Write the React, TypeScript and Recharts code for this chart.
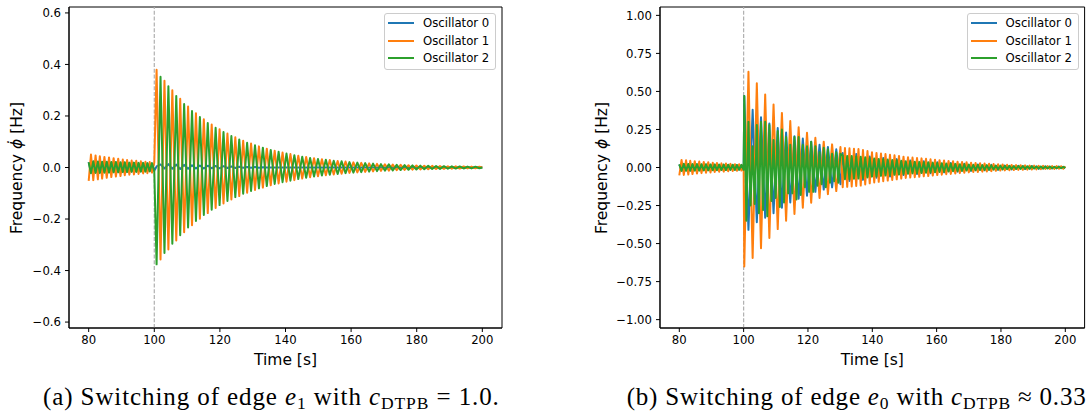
import React from 'react';
import { LineChart, Line, XAxis, YAxis, ReferenceLine, ReferenceArea } from 'recharts';

// ---------- data ----------
const seriesNames = ['Oscillator 0', 'Oscillator 1', 'Oscillator 2'];
const seriesKeys = ['o0', 'o1', 'o2'];
const seriesColors = ['#1f77b4', '#ff7f0e', '#2ca02c'];
const xTicks = [80, 100, 120, 140, 160, 180, 200];
const yTicksA = [0.6, 0.4, 0.2, 0, -0.2, -0.4, -0.6];
const yTicksB = [1, 0.75, 0.5, 0.25, 0, -0.25, -0.5, -0.75, -1];
const switchTime = 100;

// before the switch (identical in both runs)
const preTime = [80.0, 80.7, 81.4, 82.1, 82.8, 83.4, 84.1, 84.8, 85.5, 86.2, 86.9, 87.6, 88.3, 89.0, 89.7, 90.4, 91.0, 91.7, 92.4, 93.1, 93.8, 94.5, 95.2, 95.9, 96.6, 97.3, 97.9, 98.6, 99.3, 100.0];
const preOsc0 = [0.021, -0.020, 0.022, -0.019, 0.021, -0.019, 0.020, -0.018, 0.020, -0.018, 0.019, -0.017, 0.019, -0.017, 0.018, -0.016, 0.018, -0.016, 0.017, -0.015, 0.017, -0.015, 0.016, -0.014, 0.016, -0.014, 0.015, -0.013, 0.015, -0.013];
const preOsc1 = [-0.052, 0.050, -0.049, 0.047, -0.046, 0.044, -0.043, 0.041, -0.040, 0.039, -0.037, 0.036, -0.035, 0.034, -0.033, 0.031, -0.030, 0.029, -0.028, 0.027, -0.027, 0.026, -0.025, 0.024, -0.023, 0.022, -0.022, 0.021, -0.020, 0.019];
const preOsc2 = [0.020, -0.022, 0.024, -0.021, 0.023, -0.021, 0.022, -0.020, 0.022, -0.020, 0.021, -0.019, 0.021, -0.019, 0.020, -0.018, 0.020, -0.018, 0.019, -0.017, 0.019, -0.017, 0.018, -0.016, 0.018, -0.016, 0.017, -0.015, 0.017, -0.015];

// (a) after switching edge e1
const aTime = [
  100.7, 101.9, 103.1, 104.3, 105.5, 106.7, 107.9, 109.1, 110.3, 111.5,
  112.7, 113.9, 115.1, 116.3, 117.5, 118.7, 119.9, 121.1, 122.3, 123.5,
  124.7, 125.9, 127.1, 128.3, 129.5, 130.7, 131.9, 133.1, 134.3, 135.5,
  136.7, 137.9, 139.1, 140.3, 141.5, 142.7, 143.9, 145.1, 146.3, 147.5,
  148.7, 149.9, 151.1, 152.3, 153.5, 154.7, 155.9, 157.1, 158.3, 159.5,
  160.7, 161.9, 163.1, 164.3, 165.5, 166.7, 167.9, 169.1, 170.3, 171.5,
  172.7, 173.9, 175.1, 176.3, 177.5, 178.7, 179.9, 181.1, 182.3, 183.5,
  184.7, 185.9, 187.1, 188.3, 189.5, 190.7, 191.9, 193.1, 194.3, 195.5,
  196.7, 197.9, 199.1, 200.0];
const aOsc0 = [
  0.004, 0.012, -0.004, 0.013, -0.005, 0.011, -0.006, 0.010, -0.005, 0.009,
  -0.004, 0.008, -0.004, 0.007, -0.003, 0.006, -0.003, 0.005, -0.002, 0.004,
  -0.002, 0.003, -0.001, 0.002, -0.001, 0.002, -0.001, 0.001, 0, 0,
  0, 0, 0, 0, 0, 0, 0, 0, 0, 0,
  0, 0, 0, 0, 0, 0, 0, 0, 0, 0,
  0, 0, 0, 0, 0, 0, 0, 0, 0, 0,
  0, 0, 0, 0, 0, 0, 0, 0, 0, 0,
  0, 0, 0, 0, 0, 0, 0, 0, 0, 0,
  0, 0, 0, 0];
const aOsc1 = [
  0.379, -0.357, 0.337, -0.318, 0.300, -0.283, 0.267, -0.251, 0.237, -0.224,
  0.211, -0.199, 0.187, -0.177, 0.167, -0.157, 0.148, -0.140, 0.132, -0.124,
  0.117, -0.111, 0.104, -0.098, 0.093, -0.087, 0.082, -0.078, 0.073, -0.069,
  0.065, -0.062, 0.058, -0.055, 0.052, -0.049, 0.046, -0.043, 0.041, -0.038,
  0.036, -0.034, 0.032, -0.030, 0.029, -0.027, 0.025, -0.024, 0.023, -0.021,
  0.020, -0.019, 0.018, -0.017, 0.016, -0.015, 0.014, -0.013, 0.0125, -0.012,
  0.011, -0.0105, 0.010, -0.0094, 0.0088, -0.0083, 0.0079, -0.0074, 0.007, -0.0066,
  0.0062, -0.0059, 0.0055, -0.0052, 0.0049, -0.0047, 0.0044, -0.0042, 0.0039, -0.0037,
  0.0035, -0.0033, 0.0031, 0];
const aOsc2 = [
  -0.376, 0.352, -0.332, 0.315, -0.296, 0.278, -0.263, 0.246, -0.233, 0.219,
  -0.208, 0.196, -0.184, 0.173, -0.164, 0.154, -0.146, 0.138, -0.130, 0.122,
  -0.115, 0.109, -0.102, 0.096, -0.091, 0.086, -0.081, 0.077, -0.072, 0.068,
  -0.064, 0.061, -0.057, 0.054, -0.051, 0.048, -0.045, 0.042, -0.040, 0.037,
  -0.035, 0.033, -0.031, 0.030, -0.028, 0.026, -0.025, 0.024, -0.022, 0.021,
  -0.020, 0.019, -0.018, 0.017, -0.016, 0.015, -0.014, 0.013, -0.012, 0.012,
  -0.011, 0.010, -0.0098, 0.0092, -0.0087, 0.0082, -0.0077, 0.0073, -0.0069, 0.0065,
  -0.0061, 0.0058, -0.0054, 0.0051, -0.0048, 0.0046, -0.0043, 0.0041, -0.0038, 0.0036,
  -0.0034, 0.0032, -0.0030, 0];

// (b) after switching edge e0 : early part
const bEarlyTime = [
  100.2, 100.85, 101.5, 102.15, 102.8, 103.45, 104.1, 104.75, 105.4, 106.05,
  106.7, 107.35, 108.0, 108.65, 109.3, 109.95, 110.6, 111.25, 111.9, 112.55,
  113.2, 113.85, 114.5, 115.15, 115.8, 116.45, 117.1, 117.75, 118.4, 119.05,
  119.7, 120.35, 121.0, 121.65, 122.3, 122.95, 123.6, 124.25, 124.9, 125.55,
  126.2, 126.85, 127.5, 128.15, 128.8, 129.45, 130.1];
const bEarlyOsc0 = [
  0.470, 0, -0.410, 0, 0.380, 0, -0.360, 0, 0.330, 0,
  -0.330, 0, 0.290, 0, -0.300, 0, 0.260, 0, -0.265, 0,
  0.230, 0, -0.230, 0, 0.205, 0, -0.205, 0, 0.190, 0,
  -0.185, 0, 0.170, 0, -0.160, 0, 0.150, 0, -0.145, 0,
  0.135, 0, -0.130, 0, 0.120, 0, -0.110];
const bEarlyOsc1 = [
  -0.650, 0, 0.630, 0, -0.595, 0, 0.553, 0, -0.530, 0,
  0.480, 0, -0.463, 0, 0.414, 0, -0.405, 0, 0.359, 0,
  -0.350, 0, 0.305, 0, -0.305, 0, 0.265, 0, -0.265, 0,
  0.228, 0, -0.232, 0, 0.195, 0, -0.200, 0, 0.170, 0,
  -0.175, 0, 0.152, 0, -0.155, 0, 0.135];
const bEarlyOsc2 = [
  0.47, -0.35, 0.30, -0.25, 0.14, -0.24, 0.28, -0.30, 0.30, -0.28,
  0.30, -0.32, 0.28, -0.22, 0.18, -0.20, 0.24, -0.26, 0.25, -0.23,
  0.20, -0.17, 0.15, -0.17, 0.20, -0.21, 0.20, -0.18, 0.15, -0.13,
  0.14, -0.16, 0.17, -0.16, 0.14, -0.12, 0.10, -0.11, 0.13, -0.13,
  0.12, -0.10, 0.09, -0.09, 0.10, -0.10, 0.09];

// (b) late part
const bLateTime = [
  130.8, 131.5, 132.2, 132.9, 133.6, 134.3, 135.0, 135.7, 136.4, 137.1,
  137.8, 138.5, 139.2, 139.9, 140.6, 141.3, 142.0, 142.7, 143.4, 144.1,
  144.8, 145.5, 146.2, 146.9, 147.6, 148.3, 149.0, 149.7, 150.4, 151.1,
  151.8, 152.5, 153.2, 153.9, 154.6, 155.3, 156.0, 156.7, 157.4, 158.1,
  158.8, 159.5, 160.2, 160.9, 161.6, 162.3, 163.0, 163.7, 164.4, 165.1,
  165.8, 166.5, 167.2, 167.9, 168.6, 169.3, 170.0, 170.7, 171.4, 172.1,
  172.8, 173.5, 174.2, 174.9, 175.6, 176.3, 177.0, 177.7, 178.4, 179.1,
  179.8, 180.5, 181.2, 181.9, 182.6, 183.3, 184.0, 184.7, 185.4, 186.1,
  186.8, 187.5, 188.2, 188.9, 189.6, 190.3, 191.0, 191.7, 192.4, 193.1,
  193.8, 194.5, 195.2, 195.9, 196.6, 197.3, 198.0, 198.7, 199.4, 200.0];
const bLateOsc0 = [
  0.095, -0.045, 0.064, -0.088, 0.040, -0.068, 0.088, -0.042, 0.060, -0.081,
  0.036, -0.059, 0.073, -0.035, 0.049, -0.067, 0.032, -0.051, 0.063, -0.031,
  0.043, -0.059, 0.029, -0.044, 0.055, -0.027, 0.037, -0.050, 0.024, -0.037,
  0.046, -0.023, 0.032, -0.043, 0.021, -0.033, 0.041, -0.020, 0.028, -0.038,
  0.019, -0.028, 0.035, -0.017, 0.024, -0.032, 0.015, -0.024, 0.029, -0.014,
  0.020, -0.027, 0.013, -0.020, 0.025, -0.012, 0.016, -0.022, 0.011, -0.017,
  0.020, -0.010, 0.014, -0.018, 0.009, -0.014, 0.017, -0.008, 0.011, -0.015,
  0.007, -0.011, 0.013, -0.006, 0.009, -0.012, 0.006, -0.009, 0.011, -0.005,
  0.008, -0.010, 0.005, -0.007, 0.009, -0.004, 0.006, -0.008, 0.004, -0.006,
  0.007, -0.003, 0.005, -0.006, 0.003, -0.005, 0.006, -0.003, 0.004, -0.003];
const bLateOsc1 = [
  -0.130, 0.128, -0.127, 0.126, -0.125, 0.123, -0.122, 0.121, -0.119, 0.115,
  -0.111, 0.108, -0.104, 0.100, -0.098, 0.096, -0.094, 0.092, -0.090, 0.088,
  -0.086, 0.084, -0.082, 0.080, -0.078, 0.076, -0.073, 0.071, -0.069, 0.068,
  -0.066, 0.065, -0.064, 0.062, -0.061, 0.060, -0.058, 0.057, -0.056, 0.054,
  -0.053, 0.051, -0.050, 0.048, -0.047, 0.046, -0.044, 0.043, -0.042, 0.041,
  -0.040, 0.038, -0.037, 0.036, -0.035, 0.034, -0.032, 0.031, -0.030, 0.030,
  -0.029, 0.028, -0.027, 0.026, -0.026, 0.025, -0.024, 0.023, -0.022, 0.021,
  -0.020, 0.020, -0.019, 0.018, -0.018, 0.017, -0.017, 0.016, -0.016, 0.015,
  -0.015, 0.014, -0.014, 0.013, -0.013, 0.012, -0.012, 0.011, -0.011, 0.011,
  -0.010, 0.010, -0.010, 0.009, -0.009, 0.009, -0.008, 0.008, -0.008, 0.007];
const bLateOsc2 = [
  0.078, -0.077, 0.076, -0.076, 0.075, -0.074, 0.073, -0.073, 0.071, -0.069,
  0.067, -0.065, 0.062, -0.060, 0.059, -0.058, 0.056, -0.055, 0.054, -0.053,
  0.052, -0.050, 0.049, -0.048, 0.047, -0.046, 0.044, -0.043, 0.041, -0.041,
  0.040, -0.039, 0.038, -0.037, 0.037, -0.036, 0.035, -0.034, 0.034, -0.032,
  0.032, -0.031, 0.030, -0.029, 0.028, -0.028, 0.026, -0.026, 0.025, -0.025,
  0.024, -0.023, 0.022, -0.022, 0.021, -0.020, 0.019, -0.019, 0.018, -0.018,
  0.017, -0.017, 0.016, -0.016, 0.016, -0.015, 0.014, -0.014, 0.013, -0.013,
  0.012, -0.012, 0.011, -0.011, 0.011, -0.010, 0.010, -0.010, 0.010, -0.009,
  0.009, -0.008, 0.008, -0.008, 0.008, -0.007, 0.007, -0.007, 0.007, -0.007,
  0.006, -0.006, 0.006, -0.005, 0.005, -0.005, 0.005, -0.005, 0.005, -0.004];

// ---------- helpers ----------
type Seg = { t: number[]; o0: number[]; o1: number[]; o2: number[] };
function buildRows(segs: Seg[]) {
  const rows: any[] = [];
  segs.forEach((s) => {
    for (let i = 0; i < s.t.length; i++) {
      rows.push({ t: s.t[i], o0: s.o0[i] ?? null, o1: s.o1[i] ?? null, o2: s.o2[i] ?? null });
    }
  });
  return rows;
}

const preSeg = { t: preTime, o0: preOsc0, o1: preOsc1, o2: preOsc2 };
const rowsA = buildRows([preSeg, { t: aTime, o0: aOsc0, o1: aOsc1, o2: aOsc2 }]);
const rowsB = buildRows([
  preSeg,
  { t: bEarlyTime, o0: bEarlyOsc0, o1: bEarlyOsc1, o2: bEarlyOsc2 },
  { t: bLateTime, o0: bLateOsc0, o1: bLateOsc1, o2: bLateOsc2 },
]);

const X_DOMAIN: [number, number] = [74, 206];
const FONT = "'DejaVu Sans', sans-serif";
const SERIF = "'Liberation Serif', serif";
const fmt = (dec: number) => (v: number) => (v < 0 ? '\u2212' : '') + Math.abs(v).toFixed(dec);
const tickStyle = { fill: '#000', fontSize: 11.7, fontFamily: FONT };
const subStyle: React.CSSProperties = { fontSize: '0.7em', position: 'relative', top: '0.22em', fontStyle: 'normal' };

function Panel(props: any) {
  const { x, width, axisW, rightM, rows, yDom, yTicks, dec, yLabel, yLabelX } = props;
  const plotL = x + axisW;
  const plotR = x + width - rightM;
  return (
    <>
      <div style={{ position: 'absolute', left: x, top: 0 }}>
        <LineChart width={width} height={412} data={rows} margin={{ top: 7, right: rightM, bottom: 54, left: 0 }}>
          <XAxis dataKey="t" type="number" domain={X_DOMAIN} ticks={xTicks} interval={0} allowDataOverflow
            height={30} tickSize={4} tickMargin={4} tick={tickStyle}
            tickLine={{ stroke: '#000' }} axisLine={{ stroke: '#000' }} />
          <YAxis type="number" domain={yDom} ticks={yTicks} interval={0} allowDataOverflow width={axisW}
            tickSize={4} tickMargin={4} tick={tickStyle} tickFormatter={fmt(dec)}
            tickLine={{ stroke: '#000' }} axisLine={{ stroke: '#000' }} />
          <ReferenceLine x={switchTime} stroke="#b0b0b0" strokeDasharray="4 1.8" strokeWidth={1.2} />
          {seriesKeys.map((k, i) => (
            <Line key={k} dataKey={k} type="linear" stroke={seriesColors[i]} strokeWidth={2}
              strokeLinejoin="round" dot={false} activeDot={false} isAnimationActive={false} />
          ))}
          <ReferenceArea x1={X_DOMAIN[0]} x2={X_DOMAIN[1]} y1={yDom[0]} y2={yDom[1]}
            fill="none" fillOpacity={0} stroke="#000" strokeWidth={1} ifOverflow="visible" />
        </LineChart>
      </div>
      {/* legend */}
      <div style={{ position: 'absolute', left: plotR - 118, top: 13, width: 112, height: 57,
        border: '1px solid #cccccc', borderRadius: 3, background: 'rgba(255,255,255,0.8)', boxSizing: 'border-box' }}>
        {seriesNames.map((n, i) => (
          <div key={n} style={{ position: 'absolute', left: 0, top: 2 + i * 17.65, width: '100%', height: 14 }}>
            <div style={{ position: 'absolute', left: 3, top: 6.1, width: 26, height: 1.8, background: seriesColors[i] }} />
            <span style={{ position: 'absolute', left: 38, top: 0, fontSize: 11.7, lineHeight: '14px',
              fontFamily: FONT, whiteSpace: 'nowrap', color: '#000' }}>{n}</span>
          </div>
        ))}
      </div>
      {/* y label */}
      <div style={{ position: 'absolute', left: yLabelX, top: 167.5, transform: 'translate(-50%,-50%) rotate(-90deg)',
        fontFamily: FONT, fontSize: 15.5, whiteSpace: 'nowrap', color: '#000', lineHeight: '18px' }}>
        {yLabel}
      </div>
      {/* x label */}
      <div style={{ position: 'absolute', left: (plotL + plotR) / 2, top: 360, transform: 'translate(-50%,-50%)',
        fontFamily: FONT, fontSize: 15.5, whiteSpace: 'nowrap', color: '#000', lineHeight: '18px' }}>
        Time [s]
      </div>
    </>
  );
}

export default function App() {
  return (
    <div style={{ position: 'absolute', left: 0, top: 0, width: 1092, height: 412, overflow: 'hidden', background: '#fff' }}>
      <Panel x={0} width={510} axisW={69} rightM={8} rows={rowsA} yDom={[-0.623, 0.623]} yTicks={yTicksA} dec={1}
        yLabelX={17} yLabel={<span>Frequency <i>{'\u03D5\u0307'}</i> [Hz]</span>} />
      <Panel x={560} width={532} axisW={100} rightM={7.4} rows={rowsB} yDom={[-1.055, 1.055]} yTicks={yTicksB} dec={2}
        yLabelX={601.7} yLabel={<span>Frequency <i>{'\u03D5'}</i> [Hz]</span>} />
      <div style={{ position: 'absolute', left: 43, top: 384, fontFamily: SERIF, fontSize: 25, lineHeight: '25px',
        whiteSpace: 'nowrap', letterSpacing: 0.9, color: '#000' }}>
        (a) Switching of edge <i>e</i><span style={subStyle}>1</span> with <i>c</i><span style={subStyle}>DTPB</span> = 1.0.
      </div>
      <div style={{ position: 'absolute', left: 626.7, top: 384, fontFamily: SERIF, fontSize: 25, lineHeight: '25px',
        whiteSpace: 'nowrap', letterSpacing: 0.8, color: '#000' }}>
        (b) Switching of edge <i>e</i><span style={subStyle}>0</span> with <i>c</i><span style={subStyle}>DTPB</span> ≈ 0.33
      </div>
    </div>
  );
}
